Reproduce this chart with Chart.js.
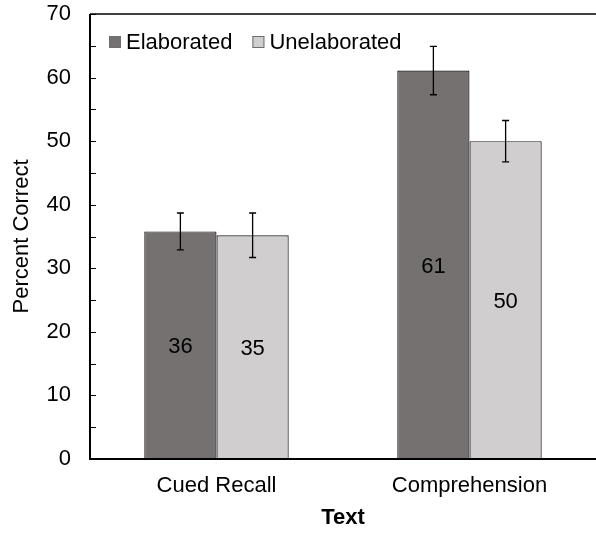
<!DOCTYPE html>
<html>
<head>
<meta charset="utf-8">
<script src="https://cdn.jsdelivr.net/npm/chart.js@4.4.1/dist/chart.umd.min.js"></script>
<style>
  html, body { margin: 0; padding: 0; background: #fff; }
  #wrap { width: 596px; height: 533px; position: relative; }
</style>
</head>
<body>
<div id="wrap"><canvas id="c" width="596" height="533"></canvas></div>
<script>
// ---- data ----
const categories = ['Cued Recall', 'Comprehension'];
const seriesNames = ['Elaborated', 'Unelaborated'];
const elaborated = [35.8, 61.1];
const unelaborated = [35.2, 50.0];
const elaboratedErr = [2.9, 3.8];
const unelaboratedErr = [3.5, 3.25];
const yTicks = [0, 10, 20, 30, 40, 50, 60, 70];
const yMinorStep = 5;

const FONT = "'Liberation Sans', Arial, sans-serif";
const FS = 22;
const errs = [elaboratedErr, unelaboratedErr];

const decorPlugin = {
  id: 'decor',
  afterDatasetsDraw(chart) {
    const ctx = chart.ctx;
    const area = chart.chartArea;
    const y = chart.scales.y;
    ctx.save();
    chart.data.datasets.forEach((ds, di) => {
      const meta = chart.getDatasetMeta(di);
      meta.data.forEach((bar, i) => {
        const v = ds.data[i], e = errs[di][i];
        const yt = y.getPixelForValue(v + e), yb = y.getPixelForValue(v - e);
        ctx.strokeStyle = '#000';
        ctx.lineWidth = 1.3;
        ctx.beginPath();
        ctx.moveTo(bar.x, yt); ctx.lineTo(bar.x, yb);
        ctx.moveTo(bar.x - 3.5, yt); ctx.lineTo(bar.x + 3.5, yt);
        ctx.moveTo(bar.x - 3.5, yb); ctx.lineTo(bar.x + 3.5, yb);
        ctx.stroke();
        ctx.fillStyle = '#000';
        ctx.font = FS + 'px ' + FONT;
        ctx.textAlign = 'center';
        ctx.textBaseline = 'middle';
        ctx.fillText(String(Math.round(v)), bar.x, (bar.y + bar.base) / 2 + 2);
      });
    });
    // inward ticks (major + minor)
    ctx.strokeStyle = '#000';
    ctx.lineWidth = 1;
    const ymax = yTicks[yTicks.length - 1];
    for (let t = 0; t <= ymax; t += yMinorStep) {
      const py = Math.round(y.getPixelForValue(t)) + 0.5;
      ctx.beginPath();
      ctx.moveTo(area.left, py); ctx.lineTo(area.left + 6, py);
      ctx.stroke();
    }
    // top border
    ctx.lineWidth = 1.5;
    ctx.beginPath();
    ctx.moveTo(area.left, area.top); ctx.lineTo(chart.width, area.top);
    ctx.stroke();
    // axes
    ctx.lineWidth = 2;
    ctx.beginPath();
    ctx.moveTo(area.left, area.top); ctx.lineTo(area.left, area.bottom);
    ctx.lineTo(chart.width, area.bottom);
    ctx.stroke();
    // legend inside plot
    const lx0 = area.left + 19, ly = area.top + 28;
    ctx.font = FS + 'px ' + FONT;
    ctx.textAlign = 'left';
    ctx.textBaseline = 'middle';
    let lx = lx0;
    chart.data.datasets.forEach((ds, di) => {
      ctx.fillStyle = ds.backgroundColor;
      ctx.fillRect(lx, ly - 6, 12, 12);
      ctx.strokeStyle = '#6f6f6f';
      ctx.lineWidth = 1;
      ctx.strokeRect(lx + 0.5, ly - 5.5, 11, 11);
      ctx.fillStyle = '#000';
      ctx.fillText(ds.label, lx + 17, ly + 1);
      lx += 17 + ctx.measureText(ds.label).width + 20;
    });
    ctx.restore();
  }
};

new Chart(document.getElementById('c'), {
  type: 'bar',
  data: {
    labels: categories,
    datasets: [
      { label: seriesNames[0], data: elaborated, backgroundColor: '#767171', borderColor: '#111', borderWidth: 1.2 },
      { label: seriesNames[1], data: unelaborated, backgroundColor: '#d0cece', borderColor: '#222', borderWidth: 1.2 }
    ]
  },
  options: {
    responsive: false,
    animation: false,
    devicePixelRatio: 1,
    layout: { padding: { top: 0, right: 0, left: 0, bottom: 0 } },
    datasets: { bar: { categoryPercentage: 0.571, barPercentage: 1.0 } },
    plugins: { legend: { display: false }, tooltip: { enabled: false } },
    scales: {
      x: {
        grid: { display: false, drawTicks: false },
        border: { display: false },
        ticks: { color: '#000', font: { family: FONT, size: FS }, padding: 14 },
        title: { display: true, text: 'Text', color: '#000', font: { family: FONT, size: FS, weight: 'bold' }, padding: { top: 4, bottom: 2 } },
        afterFit(s) { s.height = 74; }
      },
      y: {
        min: 0, max: 70,
        afterBuildTicks(s) { s.ticks = yTicks.map(v => ({ value: v })); },
        grid: { display: false, drawTicks: false },
        border: { display: false },
        ticks: { color: '#000', font: { family: FONT, size: FS }, padding: 19 },
        title: { display: true, text: 'Percent Correct', color: '#000', font: { family: FONT, size: FS }, padding: { top: 9, bottom: 0 } },
        afterFit(s) { s.width = 90; s.paddingTop = 14; }
      }
    }
  },
  plugins: [decorPlugin]
});
</script>
</body>
</html>
